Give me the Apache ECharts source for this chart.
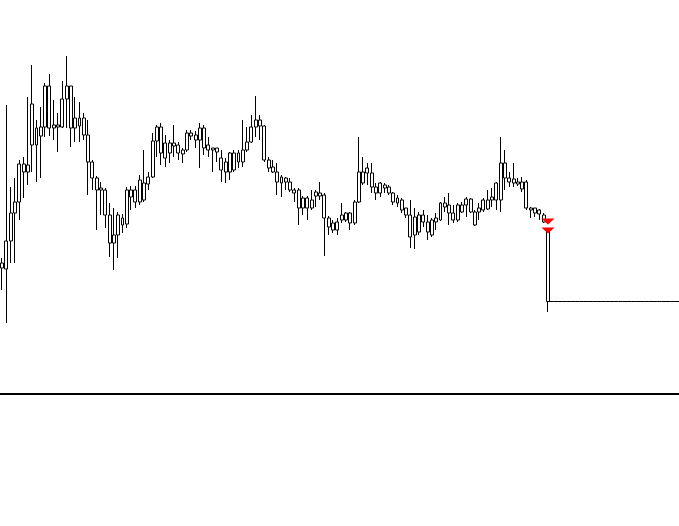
<!DOCTYPE html>
<html>
<head>
<meta charset="utf-8">
<script src="https://cdn.jsdelivr.net/npm/echarts@6/dist/echarts.min.js"></script>
<style>
html,body{margin:0;padding:0;background:#fff;}
#chart{width:679px;height:526px;}
</style>
</head>
<body>
<div id="chart"></div>
<script>
// candle values: open, close, low, high
const opens = [137,131,159,187,198,236,228,255,272,264,273,314,272,275,273,301,314,272,282,282,265,238,222,210,210,185,157,165,182,176,210,210,198,217,216,223,259,273,242,257,254,255,246,250,267,265,260,272,255,250,252,242,238,228,247,238,238,250,258,273,280,274,240,233,228,217,222,218,210,210,192,202,192,204,207,205,182,177,170,180,187,177,177,
  198,228,227,227,213,207,215,213,207,202,200,192,185,183,185,178,178,165,178,180,197,195,187,180,195,195,201,188,188,190,191,200,200,200,237,222,217,218,218,218,192,192,190,185,170];
const closes = [132,159,187,198,236,228,235,296,255,273,314,272,275,273,301,314,272,282,274,265,238,222,210,212,185,157,165,185,175,210,203,198,220,200,223,259,273,247,257,247,257,247,250,267,264,260,272,252,250,252,248,230,228,247,230,247,250,258,273,280,274,240,232,228,218,223,218,210,207,192,202,192,200,208,204,182,173,170,178,185,180,187,198,
  228,217,232,213,207,217,212,207,198,197,190,185,163,165,168,185,168,180,182,197,193,187,180,195,188,201,188,175,192,200,200,203,217,237,222,218,221,216,211,192,190,187,186,178,98.5];
const lows = [110,77,137,137,180,202,215,228,218,222,263,264,260,248,272,272,253,258,258,260,205,210,170,185,172,143,130,142,167,172,190,192,195,198,210,222,243,235,233,237,243,240,237,248,260,252,232,245,243,228,238,218,217,220,228,232,233,248,257,263,260,238,228,227,205,203,210,208,198,175,185,180,190,193,200,144,165,167,165,177,178,170,175,
  197,215,215,207,200,203,207,205,195,193,187,182,152,151,165,173,160,163,170,179,188,175,177,178,187,183,187,174,180,188,190,193,190,188,210,213,213,214,208,190,182,183,180,177,88];
const highs = [142,295,213,222,240,243,303,335,280,293,317,326,300,287,319,344,314,303,298,287,280,240,224,218,212,197,192,188,186,213,214,214,225,250,228,267,275,277,265,260,275,258,252,270,270,269,277,275,263,252,252,250,242,248,250,250,280,273,285,304,285,275,243,240,237,225,223,222,212,212,204,204,210,210,218,207,184,180,182,197,188,188,200,
  263,243,237,237,217,218,217,215,208,205,202,192,200,192,188,190,185,182,187,198,203,207,195,197,198,203,202,190,197,202,210,212,218,263,250,228,237,222,223,220,193,192,191,187,172];
// flat level held after the last candle
const tailValues = [98.5,98.5,98.5,98.5,98.5,98.5,98.5,98.5,98.5,98.5,98.5,98.5,98.5,98.5,98.5,98.5,98.5,98.5,98.5,98.5,98.5,98.5,98.5,98.5,98.5,98.5,98.5,98.5,98.5,98.5];
// signal markers on the last candle
const signalValues = [178.5, 169.5];

const nReal = opens.length;
const nTotal = nReal + tailValues.length;
const categories = Array.from({length: nTotal}, (_, i) => String(i + 1));

const candleData = [];
for (let i = 0; i < nReal; i++) candleData.push([opens[i], closes[i], lows[i], highs[i]]);

const levelData = [];
for (let i = 0; i < nTotal; i++) {
  if (i < nReal - 1) levelData.push('-');
  else if (i === nReal - 1) levelData.push(closes[nReal - 1]);
  else levelData.push(tailValues[i - nReal]);
}

const chart = echarts.init(document.getElementById('chart'), null, {renderer: 'canvas'});
chart.setOption({
  animation: false,
  backgroundColor: '#fff',
  grid: {left: 0, right: 0, top: 0, bottom: 132, containLabel: false},
  xAxis: [{
    type: 'category',
    data: categories,
    boundaryGap: true,
    axisLine: {show: true, lineStyle: {color: '#000', width: 2}},
    axisTick: {show: false},
    axisLabel: {show: false},
    splitLine: {show: false}
  }, {
    type: 'category',
    data: categories,
    boundaryGap: false,
    show: false
  }],
  yAxis: {
    type: 'value',
    min: 6,
    max: 400,
    show: false,
    splitLine: {show: false}
  },
  series: [
    {
      type: 'candlestick',
      xAxisIndex: 0,
      data: candleData,
      barWidth: '80%',
      itemStyle: {
        color: 'transparent',
        color0: 'transparent',
        borderColor: '#000',
        borderColor0: '#000',
        borderWidth: 1
      },
      markPoint: {
        symbol: 'triangle',
        symbolRotate: 180,
        symbolSize: [13, 6],
        label: {show: false},
        itemStyle: {color: '#ff0000'},
        data: signalValues.map(v => ({coord: [nReal - 1, v]}))
      }
    },
    {
      type: 'line',
      xAxisIndex: 1,
      data: levelData,
      symbol: 'none',
      lineStyle: {color: '#000', width: 1},
      connectNulls: false
    }
  ]
});
</script>
</body>
</html>
